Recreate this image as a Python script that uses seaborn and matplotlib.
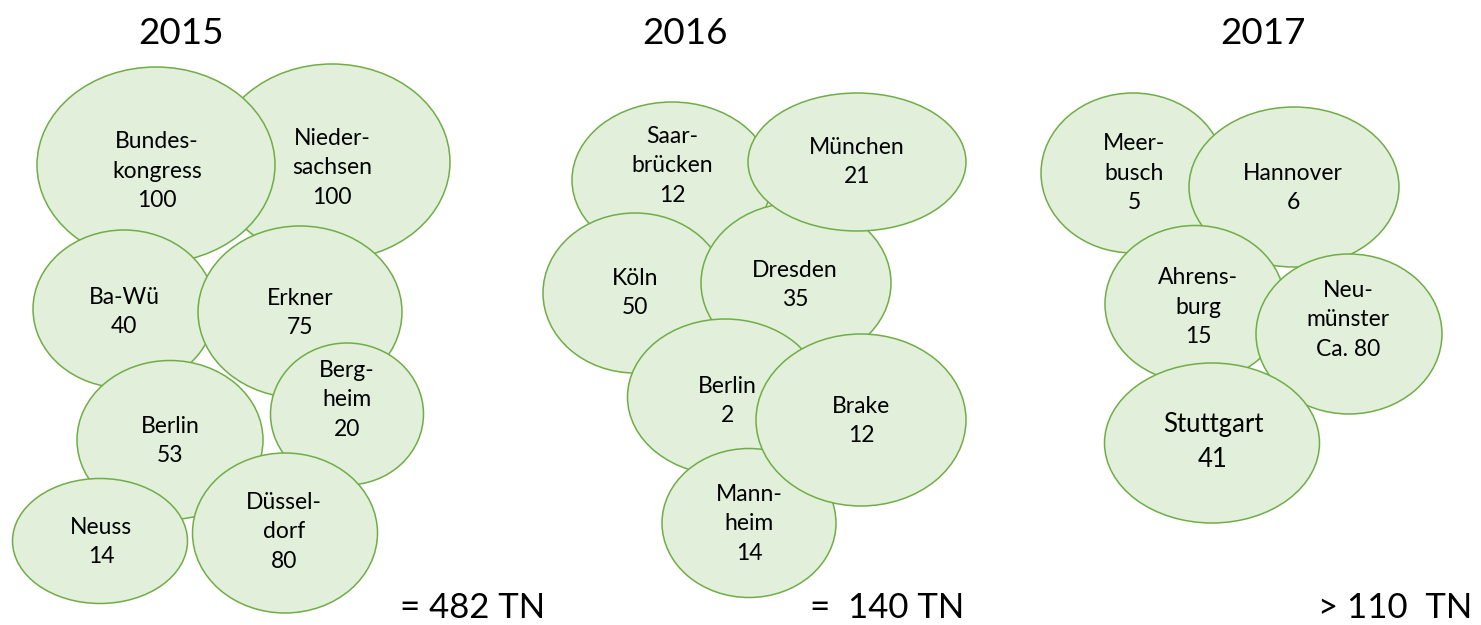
import seaborn as sns
import matplotlib.pyplot as plt
from matplotlib.patches import Ellipse

# data: one entry per bubble
years = ["2015"] * 8 + ["2016"] * 7 + ["2017"] * 5
names = ["Nieder-\nsachsen", "Bundes-\nkongress", "Ba-Wü", "Erkner", "Berg-\nheim",
         "Berlin", "Neuss", "Düssel-\ndorf",
         "Saar-\nbrücken", "Köln", "Dresden", "München", "Berlin", "Mann-\nheim", "Brake",
         "Meer-\nbusch", "Hannover", "Ahrens-\nburg", "Neu-\nmünster", "Stuttgart"]
values = ["100", "100", "40", "75", "20", "53", "14", "80",
          "12", "50", "35", "21", "2", "14", "12",
          "5", "6", "15", "Ca. 80", "41"]

year_titles = ["2015", "2016", "2017"]
totals = ["= 482 TN", "=  140 TN", "> 110  TN"]

# layout (pixel coordinates of the picture), drawn in list order
cx = [332, 156, 124, 300, 347, 170, 100, 285,
      672, 635, 796, 857, 725, 749, 861,
      1133, 1294, 1195, 1349, 1212]
cy = [162, 165, 309, 312, 414, 440, 541, 533,
      180, 293, 283, 162, 397, 523, 420,
      173, 187, 304, 334, 443]
ew = [236, 238, 182, 204, 153, 186, 175, 185,
      200, 184, 190, 218, 195, 174, 210,
      184, 210, 180, 186, 215]
eh = [196, 196, 158, 172, 142, 159, 125, 160,
      156, 160, 160, 138, 156, 149, 172,
      160, 160, 157, 160, 160]
tx = [332, 157, 124, 300, 347, 170, 101, 284,
      672, 635, 795, 857, 727, 749, 861,
      1134, 1293, 1198, 1348, 1213]
ty = [168, 171, 312, 313, 400, 441, 542, 532,
      166, 293, 285, 162, 401, 524, 421,
      173, 188, 307, 320, 442]
title_x = [181, 685, 1263]
total_x = [400, 810, 1318]

sns.set_theme(style="white")
plt.rcParams['font.family'] = ['Lato', 'DejaVu Sans']

fig = plt.figure(figsize=(14.81, 6.25), dpi=100)
ax = fig.add_axes([0, 0, 1, 1])
ax.set_xlim(0, 1481)
ax.set_ylim(625, 0)
ax.axis("off")

for i in range(len(names)):
    ax.add_patch(Ellipse((cx[i], cy[i]), ew[i], eh[i], facecolor="#e2efda",
                         edgecolor="#70ad47", lw=1.1, zorder=2 * i))
    fs = 18.5 if names[i] == "Stuttgart" else 16.5
    ax.text(tx[i], ty[i], names[i] + "\n" + values[i], ha="center", va="center",
            fontsize=fs, linespacing=1.5, color="black", zorder=2 * i + 1)

for x, t in zip(title_x, year_titles):
    ax.text(x, 44, t, ha="center", va="baseline", fontsize=26.5, color="black")
for x, t in zip(total_x, totals):
    ax.text(x, 624, t, ha="left", va="bottom", fontsize=25, color="black")

plt.savefig("out.png", dpi=100)
